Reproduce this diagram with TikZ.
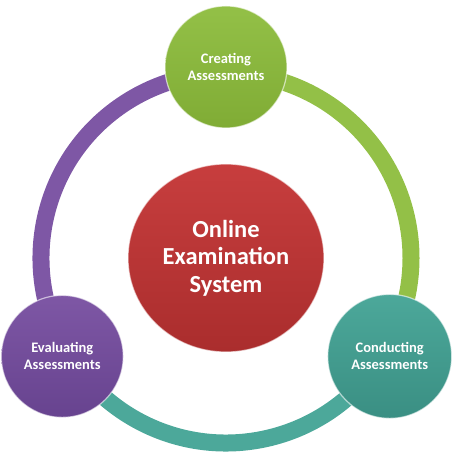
\documentclass[tikz,border=0pt]{standalone}
\usepackage{fontspec}
\setmainfont{Carlito}
\usetikzlibrary{shapes.geometric,calc}
\definecolor{cred}{HTML}{C73E3E}
\definecolor{credd}{HTML}{AA2D2D}
\definecolor{cgreen}{HTML}{93C047}
\definecolor{cgreend}{HTML}{80AC35}
\definecolor{cpurple}{HTML}{7E57A5}
\definecolor{cpurpled}{HTML}{67438F}
\definecolor{cteal}{HTML}{4CA89A}
\definecolor{cteald}{HTML}{3A8F83}
\tikzset{
  ball/.style={circle, minimum size=#1, inner sep=0pt, draw=white, draw opacity=0.6, line width=1.2pt,
     text=white, font=\bfseries\fontsize{14.5}{17}\selectfont, align=center},
  ringarc/.style={line width=17pt, line cap=butt},
}
\begin{document}
\begin{tikzpicture}[x=1pt,y=1pt]
\useasboundingbox (0,0) rectangle (460,460);
\coordinate (c) at (226,202);
% ring arcs
\coordinate (rp) at ($(c)+(211:185)$);
\coordinate (rg) at ($(c)+(90:185)$);
\coordinate (rt) at ($(c)+(329:185)$);
\draw[ringarc, draw=cpurple] (rp) arc[start angle=211, end angle=90, radius=185];
\draw[ringarc, draw=cgreen] (rg) arc[start angle=90, end angle=-31, radius=185];
\draw[ringarc, draw=cteal] (rt) arc[start angle=329, end angle=211, radius=185];
% satellite circles
\node[ball=122pt, top color=cgreen, bottom color=cgreend] (create) at ($(c)+(90:191)$) {Creating\\Assessments};
\node[ball=122pt, top color=cpurple, bottom color=cpurpled] (eval) at ($(c)+(211:191)$) {Evaluating\\Assessments};
\node[ball=124pt, top color=cteal, bottom color=cteald] (conduct) at ($(c)+(329:191)$) {Conducting\\Assessments};
% centre
\node[ellipse, minimum width=196pt, minimum height=188pt, inner sep=0pt, top color=cred, bottom color=credd,
      draw=white, draw opacity=0.6, line width=1.2pt, text=white, align=center,
      font=\bfseries\fontsize{24.5}{27.5}\selectfont] (main) at (c) {Online\\Examination\\System};
\end{tikzpicture}
\end{document}
